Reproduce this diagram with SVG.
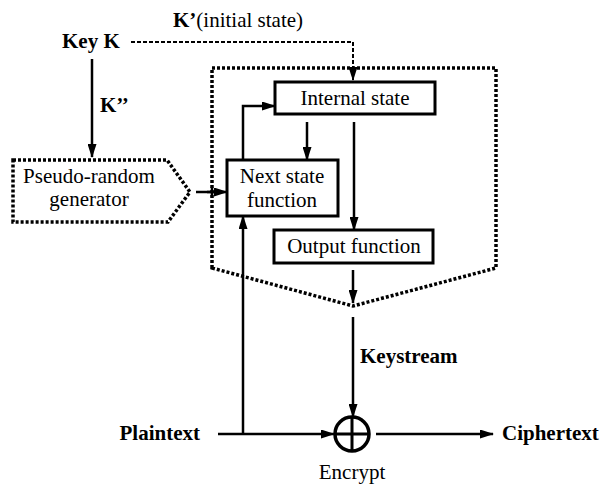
<svg xmlns="http://www.w3.org/2000/svg" width="603" height="485" viewBox="0 0 603 485">
<defs>
<marker id="ah" markerWidth="14" markerHeight="9" refX="13" refY="4.5" orient="auto" markerUnits="userSpaceOnUse">
<path d="M0,0 L14,4.5 L0,9 Z" fill="#000"/>
</marker>
<style>
text{font-family:"Liberation Serif","DejaVu Serif",serif;font-size:21px;fill:#000}
.b{font-weight:bold}
.box{fill:#fff;stroke:#000;stroke-width:3}
.dot{fill:none;stroke:#000;stroke-width:3.5;stroke-dasharray:3 2}
.ln{fill:none;stroke:#000;stroke-width:2.5}
.dash{fill:none;stroke:#000;stroke-width:2;stroke-dasharray:4 2}
</style>
</defs>
<rect width="603" height="485" fill="#fff"/>
<g id="container">
<path class="dot" d="M212,268 L212,68 L496,68 L496,268 L353,306 Z"/>
</g>
<g id="connectors">
<path class="dash" d="M131,42 L353,42 L353,80" marker-end="url(#ah)"/>
<path class="ln" d="M92,59 L92,157" marker-end="url(#ah)"/>
<path class="ln" d="M196,192 L227,192" marker-end="url(#ah)"/>
<path class="ln" d="M207,192 L217,192 M212,187 L212,197" stroke-width="3"/>
<path class="ln" d="M243,160 L243,106 L275,106" marker-end="url(#ah)"/>
<path class="ln" d="M307,122 L307,160" marker-end="url(#ah)"/>
<path class="ln" d="M354,122 L354,230" marker-end="url(#ah)"/>
<path class="ln" d="M353,270 L353,303" marker-end="url(#ah)"/>
<path class="ln" d="M353,317 L353,417" marker-end="url(#ah)"/>
<path class="ln" d="M243,434 L243,216" marker-end="url(#ah)"/>
<path class="ln" d="M218,434 L334,434" marker-end="url(#ah)"/>
<path class="ln" d="M376,434 L493,434" marker-end="url(#ah)"/>
</g>
<g id="keyK"><text class="b" x="62" y="48">Key K</text></g>
<text class="b" x="173" y="27">K’<tspan font-weight="normal">(initial state)</tspan></text>
<text class="b" x="100" y="112">K’’</text>
<g id="prng">
<path class="dot" d="M13,160 L167,160 L190,192 L168,222 L13,222 Z"/>
<text x="89" y="183" text-anchor="middle">Pseudo-random</text>
<text x="89" y="206" text-anchor="middle">generator</text>
</g>
<g id="internal">
<rect class="box" x="275" y="82" width="160" height="32"/>
<text x="355" y="105" text-anchor="middle">Internal state</text>
</g>
<g id="nextstate">
<rect class="box" x="227" y="160" width="111" height="56"/>
<text x="282" y="183" text-anchor="middle">Next state</text>
<text x="282" y="207" text-anchor="middle">function</text>
</g>
<g id="output">
<rect class="box" x="274" y="230" width="159" height="33"/>
<text x="354" y="253" text-anchor="middle">Output function</text>
</g>
<text class="b" x="360" y="363">Keystream</text>
<g id="xor">
<circle cx="352" cy="434" r="17" fill="#fff" stroke="#000" stroke-width="3.5"/>
<path d="M335,434 L369,434 M352,417 L352,451" stroke="#000" stroke-width="3"/>
<text x="352" y="479" text-anchor="middle">Encrypt</text>
</g>
<g id="plaintext"><text class="b" x="200" y="440" text-anchor="end">Plaintext</text></g>
<g id="ciphertext"><text class="b" x="502" y="440">Ciphertext</text></g>
</svg>
